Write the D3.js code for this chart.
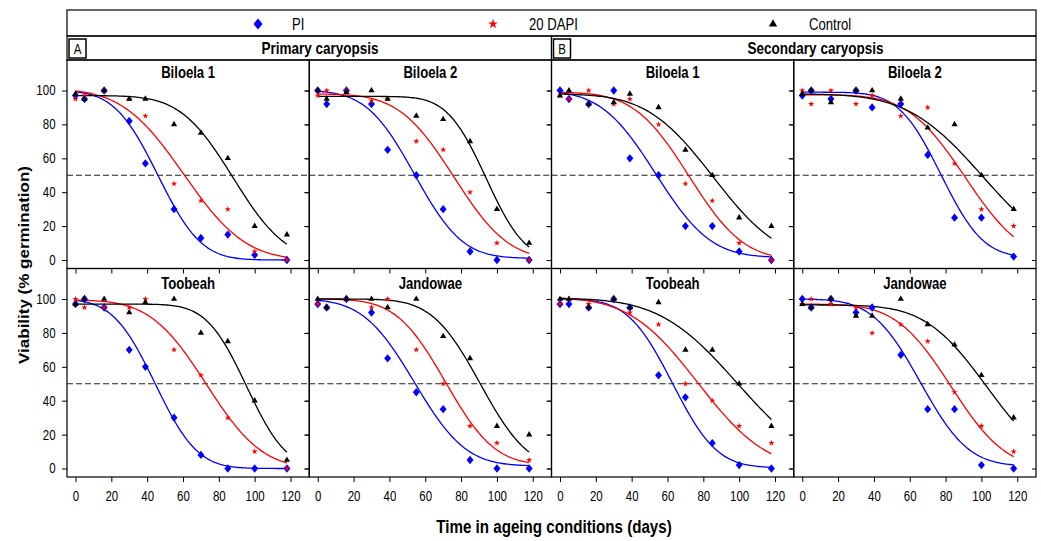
<!DOCTYPE html>
<html>
<head>
<meta charset="utf-8">
<script src="https://cdn.jsdelivr.net/npm/d3@7"></script>
<style>
  body { margin: 0; background: #fff; }
  text { font-family: "Liberation Sans", Arial, sans-serif; fill: #000; }
</style>
</head>
<body>
<div id="chart"></div>
<script>
// sampling days and labels
const days = [0, 5, 16, 30, 39, 55, 70, 85, 100, 118];
const treatments = ["PI", "20 DAPI", "Control"];
const groupTitles = ["Primary caryopsis", "Secondary caryopsis"];
const groupLetters = ["A", "B"];
const panelTitles = ["Biloela 1", "Biloela 2", "Biloela 1", "Biloela 2",
                     "Toobeah", "Jandowae", "Toobeah", "Jandowae"];
const xTicks = [0, 20, 40, 60, 80, 100, 120];
const yTicks = [0, 20, 40, 60, 80, 100];

// viability (% germination) per panel, rows = PI, 20 DAPI, Control
const priBiloela1 = [[97, 95, 100, 82, 57, 30, 13, 15, 3, 0],
                     [95, 97, 100, 95, 85, 45, 35, 30, 5, 0],
                     [98, 95, 100, 95, 95, 80, 75, 60, 20, 15]];
const priBiloela2 = [[100, 92, 100, 92, 65, 50, 30, 5, 0, 0],
                     [97, 100, 100, 94, 95, 70, 65, 40, 10, 0],
                     [100, 95, 99, 100, 95, 85, 83, 70, 30, 10]];
const secBiloela1 = [[100, 95, 92, 100, 60, 50, 20, 20, 5, 0],
                     [97, 95, 100, 92, 95, 80, 45, 35, 10, 0],
                     [97, 100, 92, 93, 98, 90, 65, 50, 25, 20]];
const secBiloela2 = [[97, 100, 95, 100, 90, 92, 62, 25, 25, 2],
                     [100, 92, 100, 92, 97, 85, 90, 57, 30, 20],
                     [98, 100, 93, 100, 100, 95, 78, 80, 50, 30]];
const priToobeah  = [[97, 100, 95, 70, 60, 30, 8, 0, 0, 0],
                     [100, 95, 95, 95, 100, 70, 55, 30, 10, 0],
                     [97, 100, 100, 92, 98, 100, 80, 75, 40, 5]];
const priJandowae = [[97, 95, 100, 92, 65, 45, 35, 5, 0, 0],
                     [97, 95, 100, 95, 100, 70, 50, 25, 15, 5],
                     [100, 95, 100, 100, 95, 100, 78, 65, 25, 20]];
const secToobeah  = [[97, 97, 95, 100, 95, 55, 42, 15, 2, 0],
                     [97, 100, 97, 100, 92, 85, 50, 40, 25, 15],
                     [100, 100, 95, 100, 95, 98, 70, 70, 50, 25]];
const secJandowae = [[100, 95, 100, 92, 95, 67, 35, 35, 2, 0],
                     [97, 100, 97, 95, 80, 85, 75, 45, 25, 10],
                     [97, 95, 100, 90, 90, 100, 85, 73, 55, 30]];

// fitted probit survival curves: [top, bottom, days to 50%, sigma]
const priBiloela1Fit = [[100, 0, 46, 19], [101, 0, 60.5, 27], [97, 0, 88, 23]];
const priBiloela2Fit = [[100, 1, 54, 21], [98, 0, 76, 24], [96.5, 0, 94, 17]];
const secBiloela1Fit = [[100, 1.5, 53.5, 24], [99, 0, 72, 24], [98, 0, 85.5, 29]];
const secBiloela2Fit = [[99, 1.5, 77.5, 18.5], [97.5, 0, 91, 25], [98, 0, 101, 33]];
const priToobeahFit  = [[100, 0, 44.5, 18.5], [99.5, 0, 73, 24.5], [97, 0, 95.5, 17.5]];
const priJandowaeFit = [[100, 1.5, 54, 22.5], [100, 2, 71.3, 21.5], [100, 0, 90.7, 21]];
const secToobeahFit  = [[100, 0.5, 62.8, 19.5], [101, 0, 77, 30], [100.5, 0, 99, 34]];
const secJandowaeFit = [[100, 1.5, 66, 21], [97, 0, 83, 24], [96.5, 0, 103, 27]];

const panelValues = [priBiloela1, priBiloela2, secBiloela1, secBiloela2,
                     priToobeah, priJandowae, secToobeah, secJandowae];
const panelFits = [priBiloela1Fit, priBiloela2Fit, secBiloela1Fit, secBiloela2Fit,
                   priToobeahFit, priJandowaeFit, secToobeahFit, secJandowaeFit];

// layout
const W = 1041, H = 541;
const L = 67, R = 1036, legTop = 10, headTop = 36, plotTop = 60, plotBottom = 477;
const colW = (R - L) / 4, rowH = (plotBottom - plotTop) / 2;
const SX = 0.82; // lettering in the original is squeezed horizontally
const colors = ["#0000ff", "#ff0000", "#000000"];
const symbols = [d3.symbolDiamond, d3.symbolStar, d3.symbolTriangle];
const symSizes = [20, 12, 17];
const symStretch = [1.45, 1, 1]; // diamonds are chunkier than d3's default

function placeText(sel, x, y) {
    return sel.attr("x", 0).attr("y", 0)
        .attr("transform", "translate(" + x + "," + y + ") scale(" + SX + ",1)");
}

// normal cdf (Abramowitz & Stegun erf)
function normCdf(z) {
    let x = Math.abs(z) / Math.SQRT2;
    let t = 1 / (1 + 0.3275911 * x);
    let e = 1 - (((((1.061405429 * t - 1.453152027) * t) + 1.421413741) * t - 0.284496736) * t + 0.254829592) * t * Math.exp(-x * x);
    return z >= 0 ? 0.5 * (1 + e) : 0.5 * (1 - e);
}

let svg = d3.select("#chart").append("svg")
    .attr("width", W).attr("height", H)
    .style("background", "#fff");

// legend
svg.append("rect").attr("x", L).attr("y", legTop).attr("width", R - L).attr("height", headTop - legTop)
    .attr("fill", "none").attr("stroke", "#000").attr("stroke-width", 1.2);
let legMarkX = [258, 493, 773], legTextX = [292, 529, 809], legSizes = [34, 30, 30];
treatments.forEach(function(t, i) {
    svg.append("path")
        .attr("d", d3.symbol(symbols[i], legSizes[i])())
        .attr("transform", "translate(" + legMarkX[i] + ",24) scale(" + symStretch[i] + ",1)")
        .attr("fill", colors[i]);
    svg.append("text").text(t).attr("font-size", 16)
        .call(placeText, legTextX[i], 30);
});

// group headers
let headOffset = [253, 264];
groupTitles.forEach(function(g, i) {
    let gx = L + i * 2 * colW;
    svg.append("rect").attr("x", gx).attr("y", headTop).attr("width", 2 * colW).attr("height", plotTop - headTop)
        .attr("fill", "none").attr("stroke", "#000").attr("stroke-width", 1.2);
    svg.append("rect").attr("x", gx + 2).attr("y", 39).attr("width", 17).attr("height", 19)
        .attr("fill", "none").attr("stroke", "#000").attr("stroke-width", 1.5);
    svg.append("text").text(groupLetters[i]).attr("font-size", 14).attr("text-anchor", "middle")
        .call(placeText, gx + 10.5, 54);
    svg.append("text").text(g).attr("font-size", 16.5).attr("font-weight", "bold")
        .attr("text-anchor", "middle")
        .call(placeText, gx + headOffset[i], 54);
});

let x = d3.scaleLinear().domain([0, 120]).range([8.5, 223.5]);
let y = d3.scaleLinear().domain([0, 100]).range([200, 30.5]);
let line = d3.line().x(d => x(d[0])).y(d => y(d[1]));

panelValues.forEach(function(vals, p) {
    let col = p % 4, row = Math.floor(p / 4);
    let g = svg.append("g")
        .attr("transform", "translate(" + (L + col * colW) + "," + (plotTop + row * rowH) + ")");

    // 50% line
    g.append("line").attr("x1", 0).attr("x2", colW).attr("y1", y(50)).attr("y2", y(50))
        .attr("stroke", "#222").attr("stroke-width", 1.1).attr("stroke-dasharray", "6,3");

    // fitted curves
    panelFits[p].forEach(function(f, k) {
        let pts = d3.range(0, 118.5, 1).map(t => [t, f[1] + (f[0] - f[1]) * normCdf((f[2] - t) / f[3])]);
        g.append("path").datum(pts)
            .attr("fill", "none").attr("stroke", colors[k]).attr("stroke-width", 1.3)
            .attr("d", line);
    });

    // observed points
    vals.forEach(function(series, k) {
        g.selectAll(null).data(series).enter().append("path")
            .attr("d", d3.symbol(symbols[k], symSizes[k])())
            .attr("transform", (d, j) => "translate(" + x(days[j]) + "," + y(d) + ") scale(" + symStretch[k] + ",1)")
            .attr("fill", colors[k]);
    });

    // panel title
    g.append("text").text(panelTitles[p]).attr("font-size", 16).attr("font-weight", "bold")
        .attr("text-anchor", "middle")
        .call(placeText, colW / 2, row === 0 ? 17.5 : 20.5);

    // frame
    g.append("rect").attr("width", colW).attr("height", rowH)
        .attr("fill", "none").attr("stroke", "#000").attr("stroke-width", 1.2);

    // axes
    let xa = g.append("g").attr("transform", "translate(0," + rowH + ")")
        .call(d3.axisBottom(x).tickValues(xTicks).tickSize(5).tickPadding(9))
        .attr("font-size", 14).attr("font-family", "Liberation Sans, Arial, sans-serif");
    xa.select(".domain").remove();
    if (row === 0) xa.selectAll("text").remove();
    else xa.selectAll("text").attr("transform", "scale(" + SX + ",1)");

    let ya = g.append("g")
        .call(d3.axisLeft(y).tickValues(yTicks).tickSize(5))
        .attr("font-size", 14).attr("font-family", "Liberation Sans, Arial, sans-serif");
    ya.select(".domain").remove();
    if (col === 0) ya.selectAll("text").attr("x", -14).attr("transform", "scale(" + SX + ",1)");
    else ya.selectAll("text").remove();

    let yr = g.append("g").attr("transform", "translate(" + colW + ",0)")
        .call(d3.axisRight(y).tickValues(yTicks).tickSize(-4));
    yr.select(".domain").remove();
    yr.selectAll("text").remove();
});

// axis titles
svg.append("text").text("Time in ageing conditions (days)")
    .attr("font-size", 18.5).attr("font-weight", "bold").attr("text-anchor", "middle")
    .call(placeText, 554, 532.5);

svg.append("text").text("Viability (% germination)")
    .attr("font-size", 17).attr("font-weight", "bold").attr("text-anchor", "middle")
    .attr("dy", "0.35em")
    .attr("transform", "translate(24.5,265) scale(" + SX + ",1) rotate(-90)");
</script>
</body>
</html>
